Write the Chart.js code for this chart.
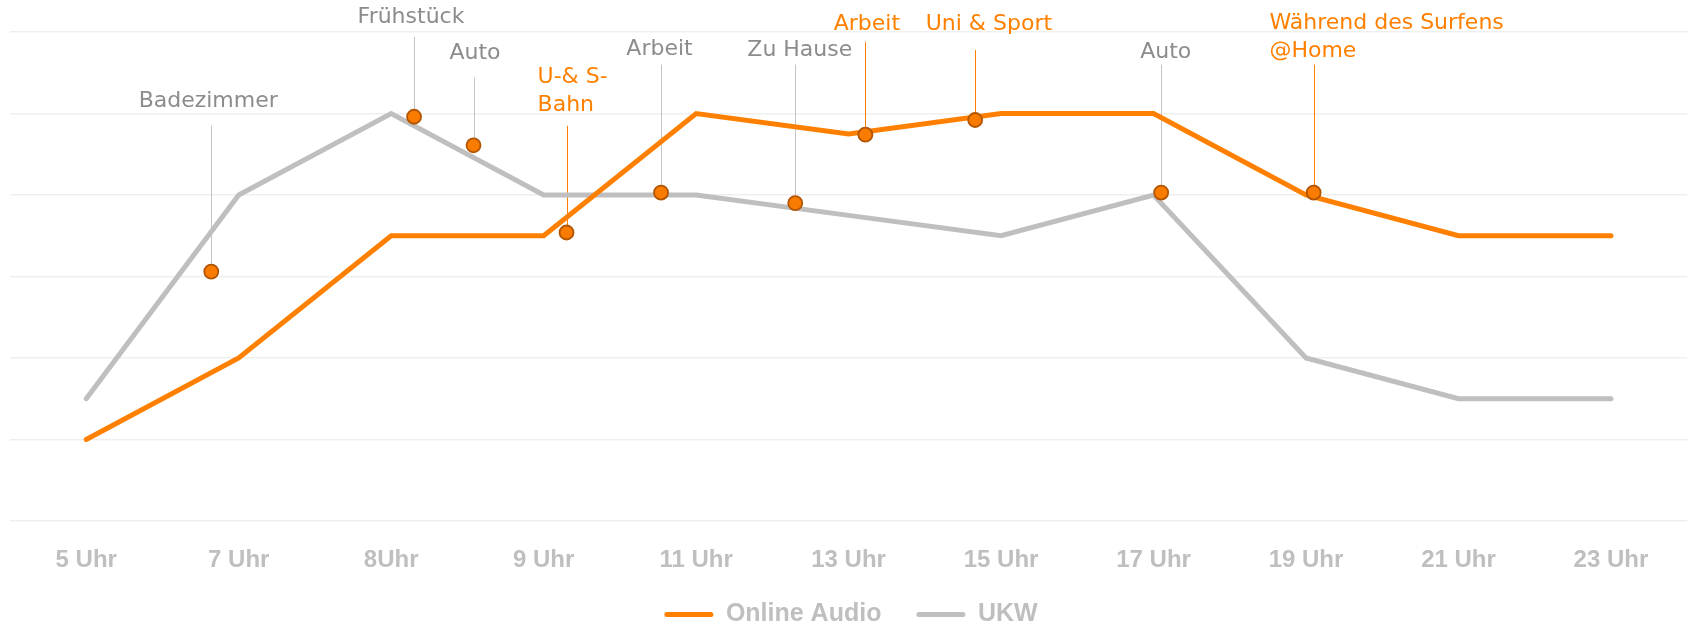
<!DOCTYPE html>
<html>
<head>
<meta charset="utf-8">
<script src="https://cdn.jsdelivr.net/npm/chart.js@4.4.1/dist/chart.umd.min.js"></script>
<style>
  html, body { margin: 0; padding: 0; background: #ffffff; }
  #wrap { width: 1696px; height: 627px; position: relative; }
</style>
</head>
<body>
<div id="wrap"><canvas id="chart" width="1696" height="627"></canvas></div>
<script>
// ---------- data ----------
const categories = ['5 Uhr', '7 Uhr', '8Uhr', '9 Uhr', '11 Uhr', '13 Uhr', '15 Uhr', '17 Uhr', '19 Uhr', '21 Uhr', '23 Uhr'];
const onlineAudio = [1, 2, 3.5, 3.5, 5, 4.75, 5, 5, 4, 3.5, 3.5];
const ukw = [1.5, 4, 5, 4, 4, 3.75, 3.5, 4, 2, 1.5, 1.5];
const seriesNames = ['Online Audio', 'UKW'];

// callout markers (x in category-index units, y in value units)
const calloutTexts = ['Badezimmer', 'Frühstück', 'Auto', 'U-& S-\nBahn', 'Arbeit', 'Zu Hause', 'Arbeit', 'Uni & Sport', 'Auto', 'Während des Surfens\n@Home'];
const calloutX = [0.82, 2.15, 2.54, 3.15, 3.77, 4.65, 5.11, 5.83, 7.05, 8.05];
const calloutY = [3.06, 4.96, 4.61, 3.54, 4.03, 3.90, 4.74, 4.92, 4.03, 4.03];
const calloutGroup = ['UKW', 'UKW', 'UKW', 'Online Audio', 'UKW', 'UKW', 'Online Audio', 'Online Audio', 'UKW', 'Online Audio'];

// callout label placement (scale units)
const labelX = [0.80, 2.13, 2.55, 2.96, 3.76, 4.68, 5.12, 5.92, 7.08, 7.76];
const labelAlign = ['center', 'center', 'center', 'left', 'center', 'center', 'center', 'center', 'center', 'left'];
const labelY = [5.15, 6.18, 5.74, 5.44, 5.79, 5.77, 6.09, 6.09, 5.75, 6.11];
const leaderTop = [4.85, 5.94, 5.44, 4.85, 5.60, 5.60, 5.88, 5.78, 5.60, 5.60];

// ---------- styles ----------
const ORANGE = '#ff8000';
const GRAY = '#bfbfbf';
const TEXT_GRAY = '#8c8c8c';
const TICK_GRAY = '#bfbfbf';

const calloutPlugin = {
  id: 'callouts',
  beforeDatasetsDraw(chart) {
    const ctx = chart.ctx;
    const xs = chart.scales.xm, ys = chart.scales.y;
    ctx.save();
    ctx.lineWidth = 1;
    for (let i = 0; i < calloutTexts.length; i++) {
      const x = xs.getPixelForValue(calloutX[i]);
      ctx.strokeStyle = calloutGroup[i] === 'UKW' ? '#c4c4c4' : ORANGE;
      ctx.beginPath();
      ctx.moveTo(Math.round(x) + 0.5, ys.getPixelForValue(leaderTop[i]));
      ctx.lineTo(Math.round(x) + 0.5, ys.getPixelForValue(calloutY[i]));
      ctx.stroke();
    }
    ctx.restore();
  },
  afterDatasetsDraw(chart) {
    const ctx = chart.ctx;
    const xs = chart.scales.xm, ys = chart.scales.y;
    ctx.save();
    ctx.font = '22px "DejaVu Sans"';
    ctx.textBaseline = 'middle';
    for (let i = 0; i < calloutTexts.length; i++) {
      ctx.fillStyle = calloutGroup[i] === 'UKW' ? TEXT_GRAY : ORANGE;
      ctx.textAlign = labelAlign[i];
      const x = xs.getPixelForValue(labelX[i]);
      const y0 = ys.getPixelForValue(labelY[i]);
      calloutTexts[i].split('\n').forEach((line, k) => {
        ctx.fillText(line, x, y0 + k * 28);
      });
    }
    ctx.restore();
  }
};

new Chart(document.getElementById('chart'), {
  type: 'line',
  data: {
    labels: categories,
    datasets: [
      {
        label: seriesNames[0],
        data: onlineAudio,
        borderColor: ORANGE,
        backgroundColor: ORANGE,
        borderWidth: 5,
        borderCapStyle: 'round',
        pointRadius: 0,
        tension: 0,
        xAxisID: 'x'
      },
      {
        label: seriesNames[1],
        data: ukw,
        borderColor: GRAY,
        backgroundColor: GRAY,
        borderWidth: 5,
        borderCapStyle: 'round',
        pointRadius: 0,
        tension: 0,
        xAxisID: 'x'
      },
      {
        label: 'markers',
        data: calloutX.map((x, i) => ({ x: x, y: calloutY[i] })),
        showLine: false,
        xAxisID: 'xm',
        pointRadius: 7,
        pointBorderWidth: 1.8,
        pointBackgroundColor: '#f97c00',
        pointBorderColor: '#b35500',
        order: -1
      }
    ]
  },
  options: {
    responsive: false,
    animation: false,
    events: [],
    layout: { padding: { top: 32, left: 10, right: 4, bottom: 5 } },
    scales: {
      x: {
        type: 'category',
        offset: true,
        grid: { display: false },
        border: { display: false },
        ticks: {
          color: TICK_GRAY,
          font: { family: 'Liberation Sans', size: 24, weight: 'bold' },
          padding: 17,
          maxRotation: 0,
          autoSkip: false
        },
        afterFit(axis) { axis.height = 46; }
      },
      xm: {
        type: 'linear',
        min: -0.5,
        max: 10.5,
        display: false
      },
      y: {
        min: 0,
        max: 6,
        ticks: { display: false, stepSize: 1 },
        grid: { color: '#efefef', lineWidth: 1.5, drawTicks: false },
        border: { display: false }
      }
    },
    plugins: {
      tooltip: { enabled: false },
      legend: {
        position: 'bottom',
        maxHeight: 55,
        labels: {
          boxWidth: 49,
          boxHeight: 5,
          padding: 35,
          color: TICK_GRAY,
          font: { family: 'Liberation Sans', size: 25, weight: 'bold' },
          generateLabels(chart) {
            return chart.data.datasets.slice(0, 2).map((ds, i) => ({
              text: ds.label,
              fillStyle: ds.borderColor,
              strokeStyle: ds.borderColor,
              lineWidth: 0,
              borderRadius: 2.5,
              fontColor: TICK_GRAY,
              datasetIndex: i,
              hidden: false
            }));
          }
        }
      }
    }
  },
  plugins: [calloutPlugin]
});
</script>
</body>
</html>
